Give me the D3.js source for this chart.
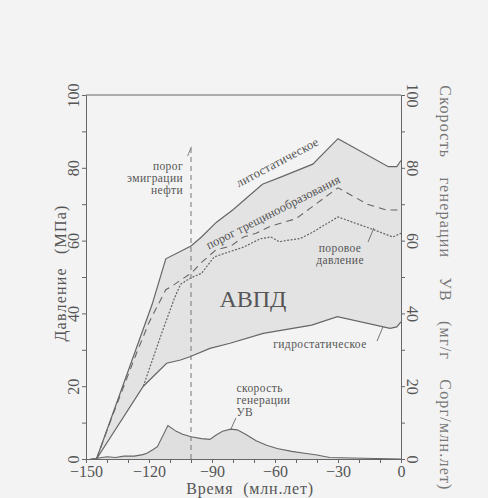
<!DOCTYPE html>
<html>
<head>
<meta charset="utf-8">
<script src="https://cdn.jsdelivr.net/npm/d3@7"></script>
<style>
  body { margin: 0; background: #f3f3f3; }
  svg { display: block; }
  svg text { font-family: "Liberation Serif", "DejaVu Serif", serif; }
</style>
</head>
<body>
<svg id="chart" width="488" height="498"></svg>
<script>
// pressure curves, [time (Myr), MPa]
const lithostatic = [[-145, 0], [-118.5, 42.5], [-112, 55], [-100, 58.5], [-95, 61], [-88, 65],
    [-80, 68.5], [-66, 75.5], [-57, 77.5], [-42, 81], [-30, 88], [-6, 80.3], [-2, 80.3], [0, 82]]
const hydrostatic = [[-145, 0], [-122.7, 20], [-111.6, 26.3], [-105, 27.2], [-100.5, 28.1], [-91, 30.4],
    [-81.4, 31.8], [-65.6, 34.5], [-42.5, 36.8], [-30.3, 39.1], [-5.2, 35.9], [-2, 36.3], [0, 37.7]]
const porePressure = [[-122.7, 20], [-114, 34.5], [-108, 44], [-105, 48], [-100, 49.8], [-95, 51],
    [-89, 55.5], [-84, 56.5], [-75, 58.2], [-67, 60.5], [-62, 61], [-58, 59.7], [-48, 60.6],
    [-43, 62], [-30, 66.5], [-13, 63], [-4, 61], [0, 62]]
const crackThreshold = [[-145, 0], [-138, 11], [-132, 20], [-126, 29], [-120, 37.5], [-116, 42],
    [-112, 46.5], [-109, 47.5], [-104, 49.5], [-100, 51], [-95, 54], [-88, 57.5], [-81, 58.5],
    [-75, 61], [-69, 62], [-62, 64], [-56, 65], [-50, 66], [-43, 69], [-30, 74.5], [-16, 70],
    [-7, 68.4], [-1, 68.4]]
// generation rate, [time, mg/g Corg per Myr]
const generation = [[-148, 0], [-145, 0.2], [-140, 0.6], [-136, 0.4], [-132, 0.8], [-127, 0.8],
    [-123, 1.2], [-121, 1.6], [-118, 2.6], [-116, 3.4], [-111, 9.2], [-107, 7.6], [-104, 6.8],
    [-100, 6.1], [-95, 5.6], [-91, 5.4], [-88, 6.6], [-85, 7.6], [-81, 8.2], [-78, 8], [-74, 6.8],
    [-69, 5], [-64, 3.8], [-59, 2.9], [-52, 2.1], [-46, 1.6], [-40, 1.1], [-34, 0.4], [-18, 0.2], [0, 0]]
const emigrationTime = -100
const emigrationTop = 85.5

const xTicks = d3.range(-150, 1, 10)
const xLabels = [-150, -120, -90, -60, -30, 0]
const yTicks = d3.range(0, 101, 10)
const yLabels = [0, 20, 40, 60, 80, 100]

const FONT = "Liberation Serif"
const INK = "#555"
const LINE = "#666"

const svg = d3.select("#chart")
svg.append("rect").attr("width", 488).attr("height", 498).attr("fill", "#f3f3f3")

const x = d3.scaleLinear().domain([-150, 0]).range([86, 401])
const y = d3.scaleLinear().domain([0, 100]).range([459, 95])
const yRight = d3.scaleLinear().domain([0, 100]).range([459, 95])

const line = d3.line().x(d => x(d[0])).y(d => y(d[1]))

// shaded band between lithostatic and hydrostatic
svg.append("path")
    .attr("d", line(lithostatic.concat(hydrostatic.slice().reverse())) + "Z")
    .attr("fill", "#e3e3e3")

// generation rate area
const genArea = d3.area().x(d => x(d[0])).y0(yRight(0)).y1(d => yRight(d[1]))
svg.append("path").datum(generation).attr("d", genArea).attr("fill", "#dfdfdf")
svg.append("path").datum(generation)
    .attr("d", d3.line().x(d => x(d[0])).y(d => yRight(d[1])))
    .attr("fill", "none").attr("stroke", LINE).attr("stroke-width", 1.1)

svg.append("path").datum(lithostatic).attr("d", line)
    .attr("fill", "none").attr("stroke", LINE).attr("stroke-width", 1.2)
svg.append("path").datum(hydrostatic).attr("d", line)
    .attr("fill", "none").attr("stroke", LINE).attr("stroke-width", 1.2)
svg.append("path").datum(crackThreshold).attr("d", line)
    .attr("fill", "none").attr("stroke", LINE).attr("stroke-width", 1.1)
    .attr("stroke-dasharray", "7,5")
svg.append("path").datum(porePressure).attr("d", line)
    .attr("fill", "none").attr("stroke", LINE).attr("stroke-width", 1.2)
    .attr("stroke-dasharray", "2,1.5")

// emigration threshold
svg.append("line")
    .attr("x1", x(emigrationTime)).attr("x2", x(emigrationTime))
    .attr("y1", y(0)).attr("y2", y(emigrationTop))
    .attr("stroke", "#777").attr("stroke-width", 1).attr("stroke-dasharray", "5,4")
svg.append("line")
    .attr("x1", x(-101.6)).attr("y1", y(83.2)).attr("x2", x(-99.8)).attr("y2", y(85.8))
    .attr("stroke", "#777").attr("stroke-width", 0.9)

// axes
function styleAxis(g) {
    g.attr("font-family", FONT)
    g.select(".domain").attr("stroke", "#666")
    g.selectAll(".tick line").attr("stroke", "#666")
    g.selectAll(".tick text").attr("fill", INK).style("font-size", "16px")
}

const gx = svg.append("g").attr("transform", `translate(0,${y(0)})`)
    .call(d3.axisBottom(x).tickValues(xTicks).tickSize(4).tickSizeOuter(0)
        .tickFormat(d => xLabels.includes(d) ? d3.format("d")(d).replace("-", "−") : ""))
styleAxis(gx)
gx.selectAll(".tick text").attr("y", 7)

const gl = svg.append("g").attr("transform", `translate(${x(-150)},0)`)
    .call(d3.axisLeft(y).tickValues(yTicks).tickSize(4).tickSizeOuter(0)
        .tickFormat(d => yLabels.includes(d) ? d : ""))
styleAxis(gl)
gl.selectAll(".tick text")
    .attr("transform", "rotate(-90)").attr("x", 0).attr("y", -7).attr("dy", 0)
    .attr("text-anchor", "middle")

const gr = svg.append("g").attr("transform", `translate(${x(0)},0)`)
    .call(d3.axisRight(yRight).tickValues(yTicks).tickSize(4).tickSizeOuter(0)
        .tickFormat(d => yLabels.includes(d) ? d : ""))
styleAxis(gr)
gr.selectAll(".tick text")
    .attr("transform", "rotate(90)").attr("x", 0).attr("y", -6).attr("dy", 0)
    .attr("text-anchor", "middle")

svg.append("line")
    .attr("x1", x(-150)).attr("x2", x(0)).attr("y1", y(100)).attr("y2", y(100))
    .attr("stroke", "#666")

// axis titles
svg.append("text")
    .attr("transform", `translate(66,${y(50) - 4}) rotate(-90)`)
    .attr("text-anchor", "middle").attr("fill", INK)
    .style("font-size", "16px").style("letter-spacing", "1.2px").style("word-spacing", "8px")
    .text("Давление (МПа)")

svg.append("text")
    .attr("transform", `translate(440,${y(50) + 11}) rotate(90)`)
    .attr("text-anchor", "middle").attr("fill", "#777")
    .style("font-size", "16px").style("letter-spacing", "1.2px").style("word-spacing", "14px")
    .text("Скорость генерации УВ (мг/г Сорг/млн.лет)")

svg.append("text")
    .attr("x", 250).attr("y", 494)
    .attr("text-anchor", "middle").attr("fill", INK)
    .style("font-size", "16px").style("letter-spacing", "0.8px").style("word-spacing", "5px")
    .text("Время (млн.лет)")

// annotations
function note(lines, t, v, anchor) {
    const txt = svg.append("text").attr("fill", INK).attr("text-anchor", anchor)
        .style("font-size", "11.5px").style("letter-spacing", "0.4px")
    lines.forEach((s, i) => {
        txt.append("tspan").attr("x", x(t)).attr("y", y(v) + i * 12).text(s)
    })
}
note(["порог", "эмиграции", "нефти"], -103.8, 79.5, "end")
note(["поровое", "давление"], -29, 57, "middle")
note(["гидростатическое"], -38.6, 30.5, "middle")
note(["скорость", "генерации", "УВ"], -78.3, 18.4, "start")

svg.append("text")
    .attr("transform", `translate(${x(-58)},${y(80.5)}) rotate(-28)`)
    .attr("text-anchor", "middle").attr("fill", INK)
    .style("font-size", "12.5px").style("letter-spacing", "0.2px")
    .text("литостатическое")
svg.append("text")
    .attr("transform", `translate(${x(-60)},${y(66.8)}) rotate(-27)`)
    .attr("text-anchor", "middle").attr("fill", INK)
    .style("font-size", "12.5px").style("letter-spacing", "0.1px")
    .text("порог трещинообразования")

svg.append("text")
    .attr("x", x(-70.5)).attr("y", y(41.8))
    .attr("text-anchor", "middle").attr("fill", "#555").style("font-size", "24px")
    .text("АВПД")

// leader lines
const leaders = [
    [[-15.7, 59.6], [-12.9, 63.5]],
    [[-11.4, 32.4], [-8.6, 36.3]],
    [[-81, 8.2], [-78.6, 11.3]]
]
leaders.forEach(seg => {
    svg.append("path").attr("d", line(seg))
        .attr("stroke", LINE).attr("stroke-width", 0.9).attr("fill", "none")
})
</script>
</body>
</html>
